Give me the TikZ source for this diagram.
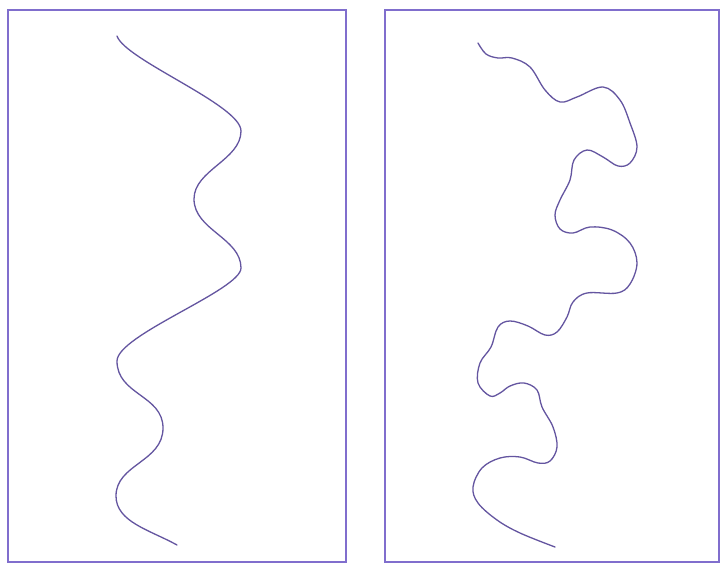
\documentclass[tikz,border=0pt]{standalone}
\definecolor{framecol}{RGB}{128,110,205}
\definecolor{curvecol}{RGB}{100,85,160}
\tikzset{
  panel/.style={draw=framecol, line width=1.4pt},
  river/.style={draw=curvecol, line width=1.3pt, line cap=round},
  riversmooth/.style={river, smooth, tension=0.6}
}
\begin{document}
\begin{tikzpicture}[x=1pt,y=-1pt]
\useasboundingbox (0,0) rectangle (723,564);
\fill[white] (0,0) rectangle (723,564);
% frames
\draw[panel] (8,10) rectangle (346,562);
\draw[panel] (385,10) rectangle (719,562);
% left curve
\draw[river] (117,36)
  .. controls (125,60) and (241,105) .. (241,131)
  .. controls (241,160) and (194,170) .. (194,199)
  .. controls (194,230) and (241,238) .. (241,268)
  .. controls (241,290) and (117,335) .. (117,361)
  .. controls (117,395) and (163,395) .. (163,428)
  .. controls (163,462) and (116,464) .. (116,496)
  .. controls (116,522) and (150,530) .. (177,545);
% right curve
\draw[riversmooth] plot coordinates {
 (478,43) (486,54) (498,58) (512,58) (530,67) (545,90) (560,102)
 (577,97) (603,87) (620,100) (630,123) (637,147) (630,163)
 (618,166) (603,157) (587,150) (574,160) (570,180) (560,200)
 (555,215) (560,229) (573,233) (590,227) (612,230) (630,243)
 (637,263) (630,284) (617,293) (587,293) (573,302) (567,317)
 (557,332) (545,335) (528,326) (510,321) (498,327) (491,347)
 (480,363) (478,383) (490,396) (500,393) (510,386) (524,383) (537,390)
 (542,407) (553,427) (557,447) (550,461) (538,463) (520,457)
 (500,458) (482,468) (473,487) (478,503) (497,520) (520,533) (555,547)};
\end{tikzpicture}
\end{document}
